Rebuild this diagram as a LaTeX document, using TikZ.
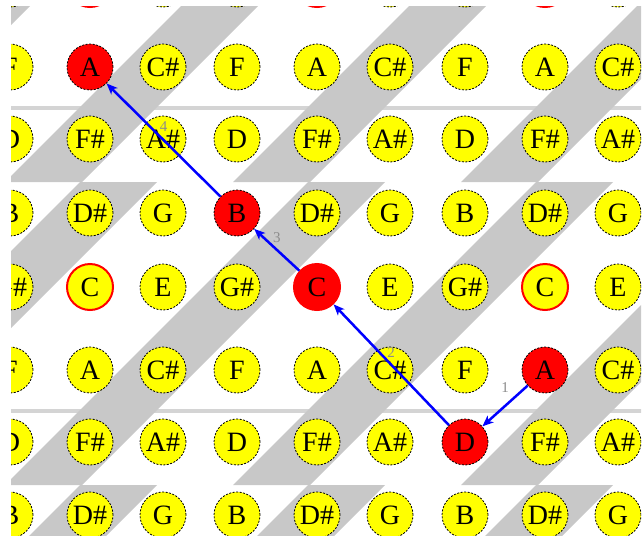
\documentclass[tikz,border=0pt]{standalone}
\usepackage{fontspec}
\setmainfont{Liberation Serif}
\usetikzlibrary{arrows.meta}
\definecolor{band}{RGB}{200,200,200}
\definecolor{seam}{RGB}{212,212,212}
\definecolor{keyyel}{RGB}{255,255,0}
\definecolor{route}{RGB}{0,0,255}
\definecolor{numgray}{RGB}{140,140,140}
\tikzset{
  >={Stealth[length=11pt,width=9pt,inset=3pt]},
  key/.style={circle,draw=black,fill=keyyel,dash pattern=on 2pt off 1.5pt,
    line width=0.8pt,minimum size=46pt,inner sep=0pt,
    font=\fontsize{28}{28}\selectfont},
  tone30/.style={draw=red,solid,line width=2pt},
  route/.style={->,draw=route,line width=2.5pt},
  step no/.style={font=\fontsize{15}{15}\selectfont,text=numgray},
  % keys on the route
  sel11/.style={fill=red},
  sel33/.style={fill=red},
  sel44/.style={fill=red},
  sel66/.style={fill=red},
  sel57/.style={fill=red},
}
% note name from row (mod 4) and column (mod 3)
\newcommand{\notename}[2]{%
  \ifcase#1 \ifcase#2 A\or C\#\or F\fi
  \or \ifcase#2 F\#\or A\#\or D\fi
  \or \ifcase#2 D\#\or G\or B\fi
  \or \ifcase#2 C\or E\or G\#\fi\fi}

\begin{document}
\begin{tikzpicture}[x=1pt,y=-1pt]
  \useasboundingbox (0,0) rectangle (643,536);
  \begin{scope}
    \clip (11,6) rectangle (641,535);
    % seams between the tiles
    \foreach \s in {106,409}
      \fill[seam] (0,\s) rectangle (643,\s+4);
    % shaded bands
    \foreach \s in {0,1,2}
      \foreach \k in {-1,...,4}
        \fill[band] ({80+228*\k},{-121+303*\s}) -- ++(77,0) -- ++(-303,303) -- ++(-77,0) -- cycle;
    % keys
    \foreach \y [count=\j from 0] in {-16,67,139,213,287,370,442,515}
      \foreach \x [count=\i from 0] in {10,90,163,237,317,390,465,545,618} {
        \pgfmathtruncatemacro{\rr}{mod(\j+3,4)}
        \pgfmathtruncatemacro{\cc}{mod(\i+2,3)}
        \node[key,tone\rr\cc/.try,sel\j\i/.try] (k\j\i) at (\x,\y) {\notename{\rr}{\cc}};
      }
    % route
    \draw[route] (k57) -- node[step no,midway,yshift=18pt] {1} (k66);
    \draw[route] (k66) -- node[step no,midway,yshift=12pt] {2} (k44);
    \draw[route] (k44) -- node[step no,midway,yshift=12pt] {3} (k33);
    \draw[route] (k33) -- node[step no,midway,yshift=13pt] {4} (k11);
  \end{scope}
\end{tikzpicture}
\end{document}
